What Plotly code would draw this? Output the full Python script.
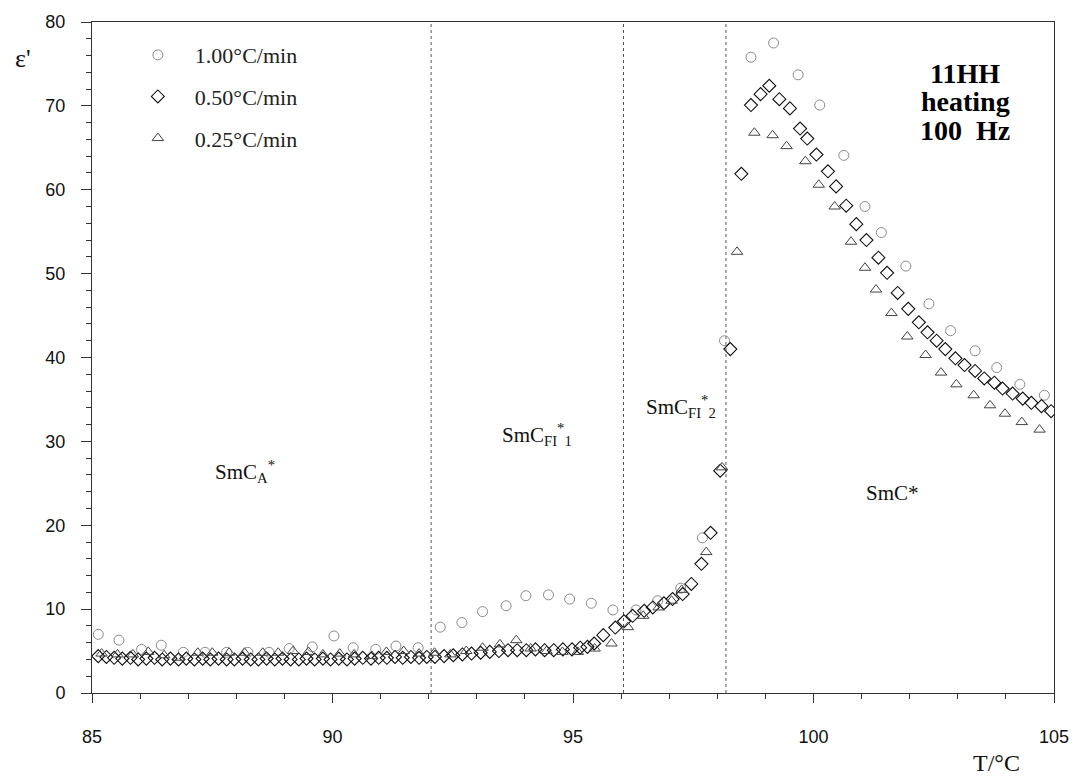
import plotly.graph_objects as go

# ---- data: 1.00 °C/min (circles)
t_100 = [85.13, 85.56, 86.03, 86.44, 86.90, 87.35, 87.80, 88.24, 88.68, 89.10,
         89.58, 90.03, 90.43, 90.90, 91.32, 91.78, 92.24, 92.69, 93.12, 93.61,
         94.02, 94.49, 94.93, 95.38, 95.83, 96.31, 96.76, 97.24, 97.69, 98.15,
         98.70, 99.17, 99.68, 100.13, 100.63, 101.07, 101.41, 101.92, 102.40,
         102.85, 103.36, 103.81, 104.29, 104.80]
e_100 = [7.0, 6.3, 5.2, 5.7, 4.85, 4.85, 4.85, 4.85, 4.85, 5.3,
         5.5, 6.8, 5.4, 5.2, 5.6, 5.4, 7.85, 8.4, 9.7, 10.4,
         11.6, 11.7, 11.2, 10.7, 9.9, 9.9, 11.0, 12.5, 18.5, 42.0,
         75.8, 77.5, 73.7, 70.1, 64.1, 58.0, 54.9, 50.9, 46.4,
         43.2, 40.8, 38.8, 36.8, 35.5]

# ---- data: 0.50 °C/min (diamonds)
t_050 = [85.13, 85.30, 85.46, 85.63, 85.80, 85.96, 86.13, 86.30, 86.46, 86.63,
         86.80, 86.96, 87.13, 87.30, 87.46, 87.63, 87.80, 87.96, 88.13, 88.30,
         88.46, 88.63, 88.80, 88.96, 89.13, 89.30, 89.46, 89.63, 89.80, 89.96,
         90.13, 90.30, 90.46, 90.63, 90.80, 90.96, 91.13, 91.30, 91.46, 91.63,
         91.80, 91.96, 92.13, 92.32, 92.51, 92.70, 92.89, 93.08, 93.27, 93.46,
         93.65, 93.84, 94.03, 94.22, 94.41, 94.60, 94.79, 94.98, 95.15, 95.30,
         95.44, 95.63, 95.88, 96.06, 96.24, 96.48, 96.66, 96.89, 97.07, 97.28,
         97.46, 97.67, 97.86, 98.06, 98.27, 98.50, 98.70, 98.90, 99.08, 99.29,
         99.51, 99.72, 99.87, 100.06, 100.30, 100.47, 100.68, 100.89, 101.10, 101.35,
         101.53, 101.75, 101.97, 102.19, 102.37, 102.56, 102.74, 102.95, 103.14, 103.36,
         103.55, 103.76, 103.93, 104.14, 104.35, 104.53, 104.74, 104.94]
e_050 = [4.4, 4.3, 4.2, 4.1, 4.2, 4.0, 4.1, 4.2, 4.0, 4.1,
         4.0, 4.1, 4.0, 4.1, 4.0, 4.1, 4.0, 4.0, 4.1, 4.0,
         4.0, 4.1, 4.0, 4.1, 4.0, 4.0, 4.1, 4.0, 4.1, 4.0,
         4.1, 4.0, 4.1, 4.2, 4.1, 4.2, 4.2, 4.3, 4.2, 4.3,
         4.2, 4.3, 4.3, 4.4, 4.5, 4.6, 4.7, 4.8, 4.9, 5.0,
         5.1, 5.1, 5.1, 5.2, 5.1, 5.1, 5.2, 5.2, 5.4, 5.5,
         5.9, 6.9, 7.8, 8.55, 9.2, 9.8, 10.2, 10.7, 11.2, 11.8,
         13.0, 15.4, 19.1, 26.5, 41.0, 61.9, 70.1, 71.4, 72.4, 70.8,
         69.7, 67.3, 66.1, 64.2, 62.2, 60.4, 58.1, 55.9, 54.0, 51.9,
         50.1, 47.7, 45.8, 44.2, 43.0, 42.0, 41.0, 39.9, 39.1, 38.4,
         37.5, 37.0, 36.3, 35.7, 35.1, 34.6, 34.2, 33.6]

# ---- data: 0.25 °C/min (triangles)
t_025 = [85.20, 85.53, 85.85, 86.17, 86.50, 86.80, 87.20, 87.50, 87.85, 88.17,
         88.55, 88.87, 89.18, 89.50, 89.80, 90.15, 90.45, 90.82, 91.12, 91.48,
         91.80, 92.12, 92.45, 92.78, 93.12, 93.48, 93.82, 94.12, 94.45, 94.78,
         95.10, 95.45, 95.80, 96.14, 96.46, 96.78, 97.05, 97.26, 97.77, 98.10,
         98.41, 98.77, 99.15, 99.44, 99.83, 100.11, 100.44, 100.78, 101.07, 101.30,
         101.62, 101.95, 102.33, 102.65, 102.97, 103.33, 103.67, 103.98, 104.33, 104.70]
e_025 = [4.7, 4.6, 4.6, 4.9, 4.5, 4.2, 4.8, 4.8, 4.8, 4.8,
         4.8, 4.8, 5.0, 4.9, 4.6, 4.7, 4.6, 4.4, 4.9, 5.0,
         4.7, 4.8, 4.6, 5.0, 5.4, 5.8, 6.3, 5.3, 5.0, 4.9,
         4.9, 5.3, 5.9, 7.85, 9.2, 10.2, 11.0, 12.3, 16.8, 26.9,
         52.6, 66.8, 66.5, 65.2, 63.4, 60.6, 58.0, 53.8, 50.7, 48.1,
         45.3, 42.5, 40.3, 38.2, 36.8, 35.5, 34.3, 33.3, 32.3, 31.4]

# phase boundaries (°C)
boundaries = [92.05, 96.05, 98.18]

x_ticks = [85, 90, 95, 100, 105]
y_ticks = [0, 10, 20, 30, 40, 50, 60, 70, 80]

SERIF = "Liberation Serif, Times New Roman, serif"
SANS = "Liberation Sans, Arial, sans-serif"

fig = go.Figure()
fig.add_trace(go.Scatter(x=t_100, y=e_100, mode="markers", name="1.00°C/min",
                         legendgroup="a",
                         marker=dict(symbol="circle-open", size=10, color="#8a8a8a",
                                     line=dict(width=1, color="#8a8a8a"))))
fig.add_trace(go.Scatter(x=t_050, y=e_050, mode="markers", name="0.50°C/min",
                         legendgroup="b",
                         marker=dict(symbol="diamond-open", size=10, color="#111111",
                                     line=dict(width=1.1, color="#111111"))))
fig.add_trace(go.Scatter(x=t_025, y=e_025, mode="markers", name="0.25°C/min",
                         legendgroup="c",
                         marker=dict(symbol="triangle-up-open", size=10, color="#444444",
                                     line=dict(width=1, color="#444444"))))

for b in boundaries:
    fig.add_shape(type="line", x0=b, x1=b, y0=0, y1=80, xref="x", yref="y",
                  line=dict(color="#555555", width=1, dash="dot"), layer="below")

ann = [
    dict(text="<b>11HH</b>", x=0.908, y=0.923),
    dict(text="<b>heating</b>", x=0.908, y=0.881),
    dict(text="<b>100  Hz</b>", x=0.908, y=0.839),
]
for a in ann:
    fig.add_annotation(xref="paper", yref="paper", x=a["x"], y=a["y"], text=a["text"],
                       showarrow=False, font=dict(family=SERIF, size=28, color="#000"),
                       xanchor="center", yanchor="middle")

phase = [
    dict(text="SmC<sub>A</sub><sup>*</sup>", x=88.18, y=26.4),
    dict(text="SmC<sub>FI</sub><sup>*</sup><sub>1</sub>", x=94.25, y=30.8),
    dict(text="SmC<sub>FI</sub><sup>*</sup><sub>2</sub>", x=97.24, y=34.1),
    dict(text="SmC*", x=101.64, y=23.9),
]
for p in phase:
    fig.add_annotation(xref="x", yref="y", x=p["x"], y=p["y"], text=p["text"],
                       showarrow=False, font=dict(family=SERIF, size=21, color="#111"),
                       xanchor="center", yanchor="middle")

fig.add_annotation(xref="paper", yref="paper", x=-0.072, y=0.946, text="ε'",
                   showarrow=False, font=dict(family=SERIF, size=26, color="#111"),
                   xanchor="center", yanchor="middle")
fig.add_annotation(xref="paper", yref="paper", x=0.94, y=-0.105, text="T/°C",
                   showarrow=False, font=dict(family=SERIF, size=24, color="#111"),
                   xanchor="center", yanchor="middle")

fig.update_layout(
    width=1081, height=779,
    margin=dict(l=92, r=20, t=17, b=86),
    paper_bgcolor="white", plot_bgcolor="white",
    showlegend=True,
    legend=dict(x=0.030, y=0.982, xanchor="left", yanchor="top",
                font=dict(family=SERIF, size=22, color="#222"),
                bgcolor="rgba(0,0,0,0)", tracegroupgap=10, itemwidth=64),
    xaxis=dict(range=[85, 105], tickvals=x_ticks, ticks="outside", ticklen=9,
               tickcolor="#333", showline=True, linecolor="#333", linewidth=1,
               mirror=True, showgrid=False, zeroline=False,
               minor=dict(dtick=1, ticks="outside", ticklen=5, tickcolor="#333"),
               tickfont=dict(family=SANS, size=18, color="#111"),
               ticklabelstandoff=18),
    yaxis=dict(range=[0, 80], tickvals=y_ticks, ticks="outside", ticklen=10,
               tickcolor="#333", showline=True, linecolor="#333", linewidth=1,
               mirror=True, showgrid=False, zeroline=False,
               minor=dict(dtick=2, ticks="outside", ticklen=5, tickcolor="#333"),
               tickfont=dict(family=SANS, size=18, color="#111"),
               ticklabelstandoff=12),
)

fig.write_html("out.html")
